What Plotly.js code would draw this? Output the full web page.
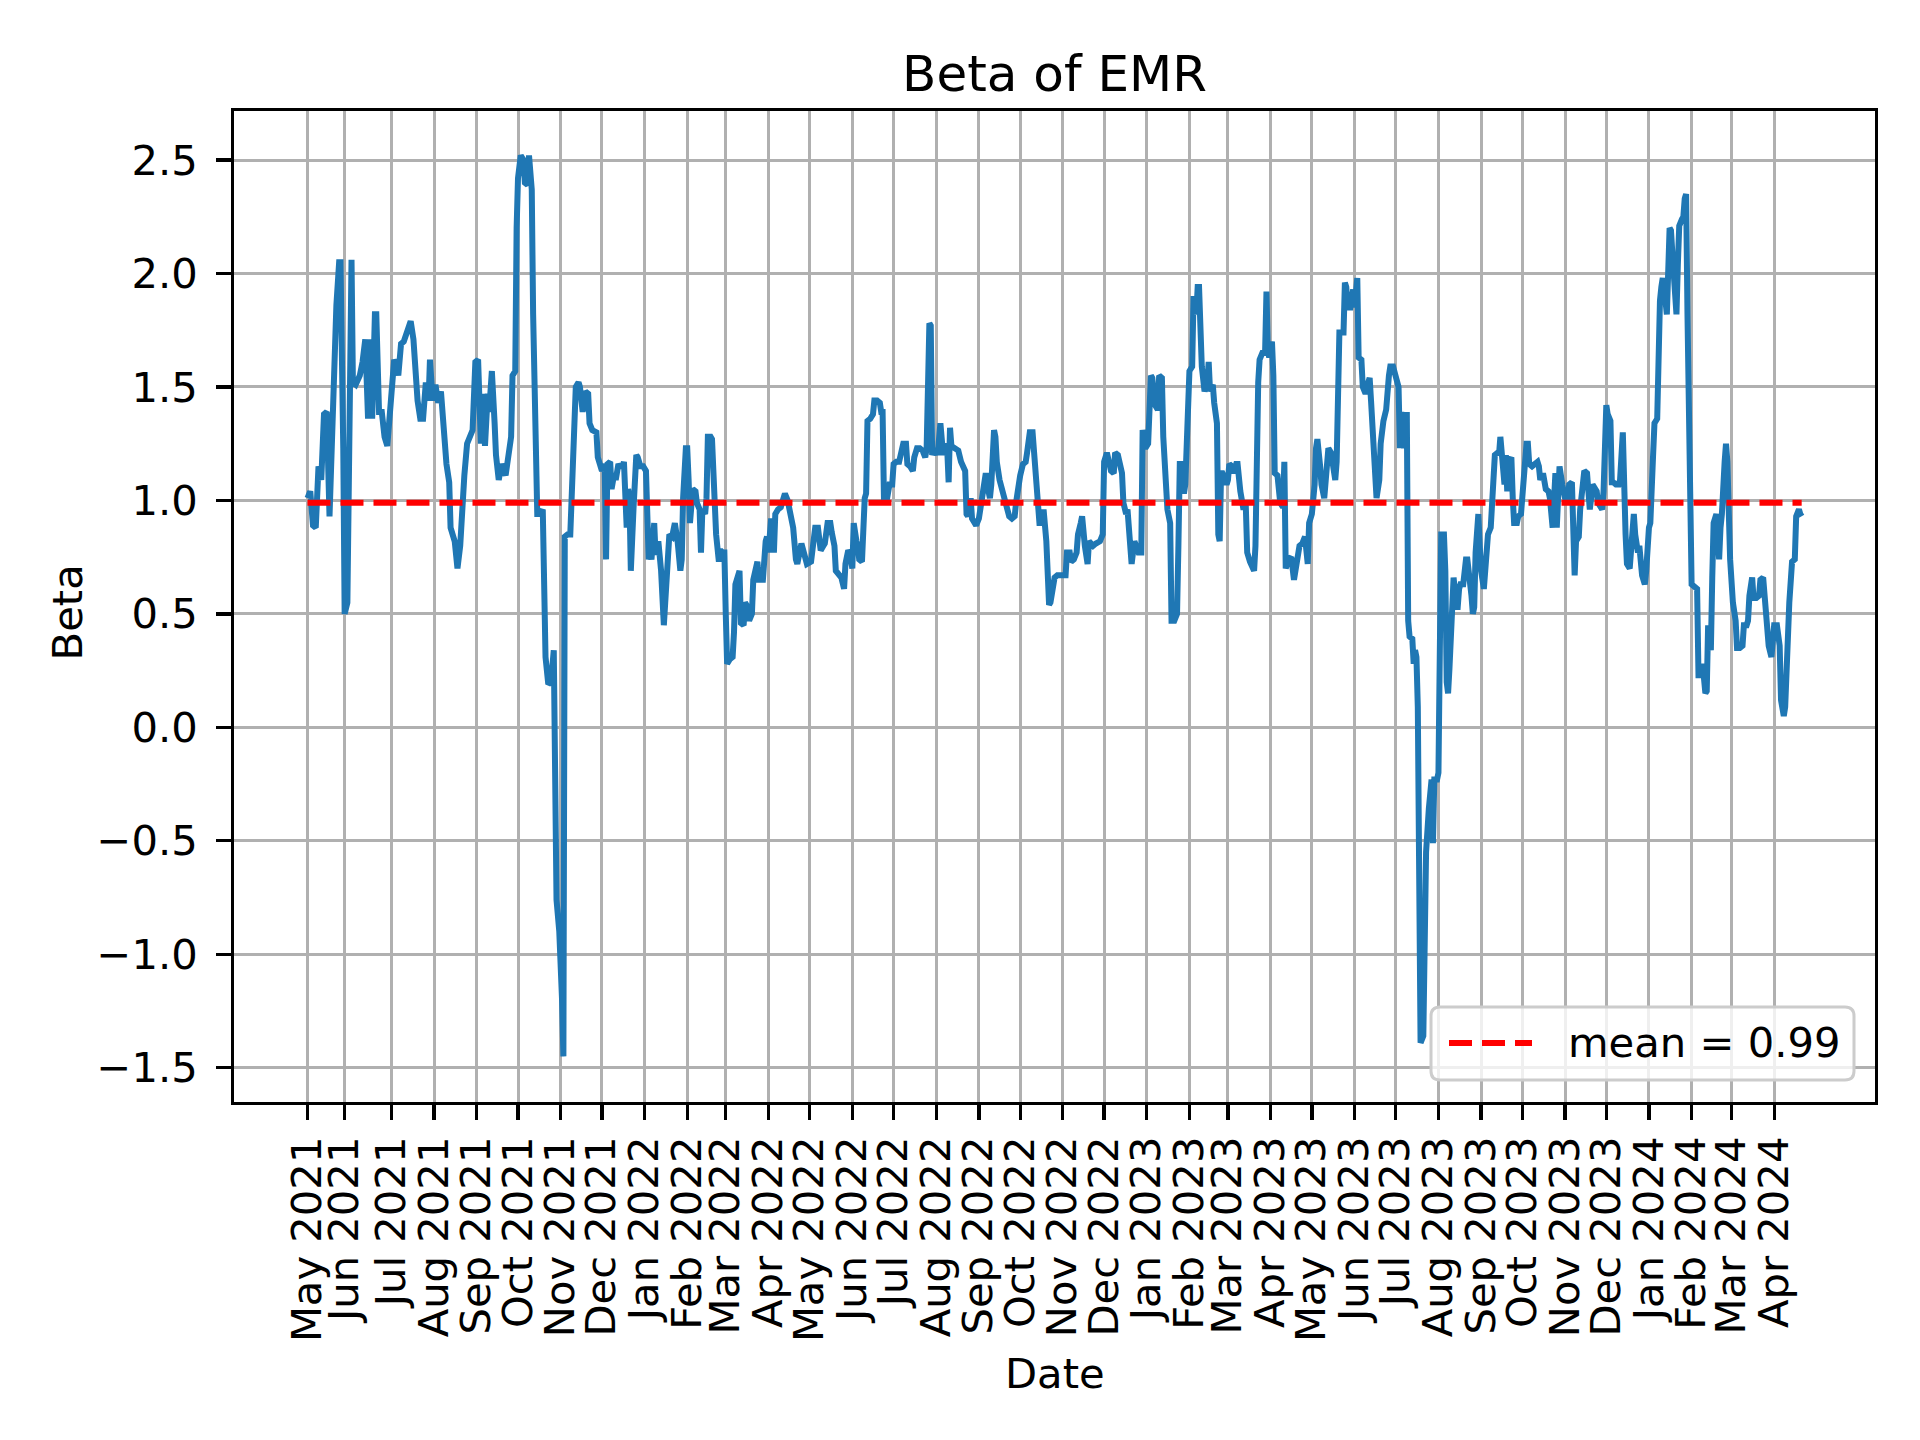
<!DOCTYPE html>
<html>
<head>
<meta charset="utf-8">
<script src="https://cdn.plot.ly/plotly-3.0.1.min.js"></script>
<style>html,body{margin:0;padding:0;background:#fff;}#chart{width:1920px;height:1440px;}</style>
</head>
<body>
<div id="chart"></div>
<script>
// ---- data ----
const d2021 = ['2021-05-01','2021-05-03','2021-05-05','2021-05-07','2021-05-09','2021-05-11','2021-05-13','2021-05-15','2021-05-17','2021-05-19','2021-05-21','2021-05-22','2021-05-24','2021-05-25','2021-05-27','2021-05-28','2021-05-30',
'2021-06-01','2021-06-02','2021-06-03','2021-06-05','2021-06-08','2021-06-10','2021-06-12','2021-06-14','2021-06-15','2021-06-17','2021-06-19','2021-06-20','2021-06-22','2021-06-24','2021-06-26','2021-06-28',
'2021-07-03','2021-07-05','2021-07-06','2021-07-08','2021-07-10','2021-07-12','2021-07-15','2021-07-17','2021-07-19','2021-07-20','2021-07-22','2021-07-24','2021-07-26','2021-07-28','2021-07-29','2021-07-31',
'2021-08-02','2021-08-04','2021-08-06','2021-08-08','2021-08-10','2021-08-12','2021-08-13','2021-08-16','2021-08-18','2021-08-20','2021-08-22','2021-08-23','2021-08-25','2021-08-27','2021-08-29','2021-08-31',
'2021-09-02','2021-09-04','2021-09-05','2021-09-07','2021-09-09','2021-09-10','2021-09-12','2021-09-14','2021-09-15','2021-09-17','2021-09-19','2021-09-22','2021-09-24','2021-09-26','2021-09-27','2021-09-29','2021-09-30',
'2021-10-01','2021-10-03','2021-10-05','2021-10-06','2021-10-08','2021-10-09','2021-10-11','2021-10-12','2021-10-14','2021-10-15','2021-10-17','2021-10-19','2021-10-21','2021-10-23','2021-10-25','2021-10-27','2021-10-29','2021-10-31',
'2021-11-02','2021-11-03','2021-11-04','2021-11-06','2021-11-08','2021-11-09','2021-11-10','2021-11-12','2021-11-14','2021-11-15','2021-11-17','2021-11-19','2021-11-21','2021-11-22','2021-11-24','2021-11-27','2021-11-28','2021-11-30',
'2021-12-01','2021-12-03','2021-12-04','2021-12-05','2021-12-07','2021-12-08','2021-12-10','2021-12-11','2021-12-13','2021-12-14','2021-12-16','2021-12-17','2021-12-19','2021-12-20','2021-12-21','2021-12-22','2021-12-23','2021-12-24','2021-12-26','2021-12-27','2021-12-29','2021-12-31'];
const b2021 = [1.01,1.04,0.89,0.88,1.15,1.09,1.38,1.39,0.93,1.39,1.85,1.86,2.05,2.05,1.23,0.50,0.55,
2.06,2.06,1.52,1.51,1.55,1.61,1.71,1.36,1.71,1.36,1.82,1.82,1.39,1.39,1.28,1.24,
1.62,1.59,1.55,1.69,1.70,1.74,1.79,1.71,1.47,1.44,1.36,1.36,1.52,1.44,1.62,1.44,
1.51,1.43,1.48,1.31,1.16,1.08,0.88,0.82,0.70,0.80,1.11,1.11,1.25,1.28,1.31,1.61,
1.62,1.25,1.47,1.24,1.47,1.39,1.57,1.34,1.20,1.09,1.16,1.11,1.19,1.28,1.55,1.57,2.20,
2.42,2.52,2.50,2.40,2.39,2.52,2.37,1.82,1.01,0.94,0.94,0.96,0.31,0.19,0.20,0.34,-0.76,-0.90,
-1.20,-1.45,0.84,0.85,0.85,1.01,1.01,1.50,1.52,1.50,1.39,1.48,1.47,1.34,1.31,1.30,1.19,1.16,
1.13,1.16,0.74,1.16,1.17,1.05,1.12,1.09,1.16,1.15,1.15,1.17,0.88,1.05,1.01,0.69,0.96,0.97,1.20,1.19,1.15,1.15];

const d2022 = ['2022-01-02','2022-01-04','2022-01-05','2022-01-06','2022-01-08','2022-01-09','2022-01-11','2022-01-13','2022-01-15','2022-01-17','2022-01-19','2022-01-21','2022-01-23','2022-01-25','2022-01-27','2022-01-28','2022-01-29','2022-01-31',
'2022-02-01','2022-02-02','2022-02-03','2022-02-05','2022-02-07','2022-02-08','2022-02-10','2022-02-11','2022-02-12','2022-02-14','2022-02-15','2022-02-16','2022-02-18','2022-02-19','2022-02-21','2022-02-22','2022-02-24','2022-02-25','2022-02-27','2022-02-28',
'2022-03-01','2022-03-02','2022-03-04','2022-03-06','2022-03-07','2022-03-08','2022-03-10','2022-03-11','2022-03-12','2022-03-14','2022-03-15','2022-03-16','2022-03-18','2022-03-20','2022-03-21','2022-03-22','2022-03-24','2022-03-25','2022-03-27','2022-03-28','2022-03-30','2022-03-31',
'2022-04-01','2022-04-03','2022-04-05','2022-04-06','2022-04-08','2022-04-10','2022-04-12','2022-04-13','2022-04-15','2022-04-17','2022-04-19','2022-04-21','2022-04-22','2022-04-25','2022-04-27','2022-04-29',
'2022-05-02','2022-05-03','2022-05-05','2022-05-07','2022-05-09','2022-05-11','2022-05-12','2022-05-14','2022-05-16','2022-05-17','2022-05-19','2022-05-20','2022-05-22','2022-05-24','2022-05-26','2022-05-27','2022-05-29','2022-05-30',
'2022-06-01','2022-06-02','2022-06-04','2022-06-05','2022-06-06','2022-06-08','2022-06-10','2022-06-11','2022-06-12','2022-06-14','2022-06-16','2022-06-17','2022-06-19','2022-06-21','2022-06-22','2022-06-23','2022-06-24','2022-06-26','2022-06-28','2022-06-30',
'2022-07-01','2022-07-03','2022-07-05','2022-07-06','2022-07-08','2022-07-10','2022-07-11','2022-07-13','2022-07-15','2022-07-16','2022-07-18','2022-07-20','2022-07-22','2022-07-24','2022-07-25','2022-07-27','2022-07-28','2022-07-29','2022-07-30',
'2022-08-01','2022-08-02','2022-08-04','2022-08-05','2022-08-06','2022-08-08','2022-08-09','2022-08-10','2022-08-11','2022-08-12','2022-08-14','2022-08-15','2022-08-17','2022-08-19','2022-08-20','2022-08-22','2022-08-23','2022-08-24','2022-08-26','2022-08-27','2022-08-29','2022-08-30',
'2022-09-01','2022-09-03','2022-09-05','2022-09-06','2022-09-07','2022-09-09','2022-09-10','2022-09-12','2022-09-13','2022-09-14','2022-09-16','2022-09-18','2022-09-20','2022-09-21','2022-09-23','2022-09-25','2022-09-27','2022-09-28','2022-09-30',
'2022-10-01','2022-10-03','2022-10-05','2022-10-06','2022-10-08','2022-10-10','2022-10-11','2022-10-12','2022-10-13','2022-10-15','2022-10-16','2022-10-18','2022-10-20','2022-10-21','2022-10-22','2022-10-23','2022-10-24','2022-10-26','2022-10-28','2022-10-30',
'2022-11-01','2022-11-03','2022-11-04','2022-11-06','2022-11-07','2022-11-09','2022-11-11','2022-11-12','2022-11-14','2022-11-15','2022-11-17','2022-11-18','2022-11-19','2022-11-20','2022-11-22','2022-11-23','2022-11-25','2022-11-28','2022-11-30',
'2022-12-01','2022-12-03','2022-12-04','2022-12-06','2022-12-08','2022-12-09','2022-12-11','2022-12-13','2022-12-14','2022-12-15','2022-12-17','2022-12-18','2022-12-20','2022-12-21','2022-12-23','2022-12-24','2022-12-26','2022-12-28','2022-12-29','2022-12-31'];
const b2022 = [1.13,0.74,0.77,0.74,0.90,0.76,0.82,0.69,0.45,0.61,0.85,0.84,0.90,0.82,0.69,0.74,1.01,1.23,
1.23,1.09,0.90,1.05,1.04,0.99,0.96,0.77,0.96,0.94,1.01,1.28,1.28,1.27,0.88,0.85,0.73,0.78,0.77,0.77,
0.50,0.28,0.30,0.31,0.42,0.63,0.67,0.69,0.46,0.45,0.55,0.54,0.47,0.50,0.65,0.69,0.73,0.65,0.65,0.65,0.82,0.84,
0.77,0.92,0.77,0.94,0.96,0.97,1.01,1.03,1.00,0.94,0.88,0.74,0.72,0.81,0.77,0.72,
0.73,0.80,0.88,0.88,0.78,0.80,0.81,0.90,0.90,0.86,0.80,0.69,0.67,0.66,0.61,0.72,0.78,0.77,
0.70,0.90,0.82,0.80,0.74,0.73,1.01,1.03,1.35,1.36,1.38,1.44,1.44,1.43,1.39,1.39,1.00,1.00,1.07,1.07,
1.16,1.17,1.17,1.19,1.25,1.25,1.16,1.15,1.13,1.19,1.23,1.23,1.22,1.19,1.23,1.78,1.77,1.20,1.22,
1.22,1.20,1.34,1.25,1.20,1.25,1.22,1.08,1.32,1.24,1.23,1.23,1.22,1.17,1.16,1.13,0.94,0.93,1.01,0.92,0.90,0.89,
0.92,1.00,1.04,1.12,1.07,1.01,1.07,1.31,1.28,1.17,1.09,1.04,1.01,0.96,0.93,0.92,0.93,0.99,1.08,
1.11,1.16,1.17,1.21,1.30,1.30,1.20,1.19,1.07,0.90,0.90,0.96,0.82,0.72,0.54,0.55,0.58,0.66,0.67,0.67,
0.67,0.67,0.77,0.77,0.73,0.74,0.77,0.85,0.90,0.93,0.80,0.77,0.72,0.82,0.80,0.80,0.81,0.82,0.85,
1.17,1.21,1.19,1.13,1.12,1.21,1.20,1.16,1.12,0.99,0.94,0.96,0.80,0.72,0.82,0.80,0.77,0.77,1.31,1.23];

const d2023 = ['2023-01-02','2023-01-04','2023-01-05','2023-01-07','2023-01-09','2023-01-10','2023-01-12','2023-01-13','2023-01-15','2023-01-16','2023-01-18','2023-01-19','2023-01-21','2023-01-23','2023-01-24','2023-01-25','2023-01-27','2023-01-28','2023-01-29','2023-01-31',
'2023-02-01','2023-02-03','2023-02-04','2023-02-05','2023-02-06','2023-02-07','2023-02-08','2023-02-10','2023-02-11','2023-02-12','2023-02-14','2023-02-15','2023-02-16','2023-02-18','2023-02-19','2023-02-21','2023-02-22','2023-02-23','2023-02-24','2023-02-25','2023-02-27','2023-02-28',
'2023-03-01','2023-03-02','2023-03-04','2023-03-05','2023-03-07','2023-03-08','2023-03-10','2023-03-11','2023-03-12','2023-03-14','2023-03-15','2023-03-17','2023-03-19','2023-03-20','2023-03-21','2023-03-22','2023-03-23','2023-03-24','2023-03-26','2023-03-28','2023-03-29','2023-03-30','2023-03-31',
'2023-04-02','2023-04-03','2023-04-04','2023-04-06','2023-04-08','2023-04-10','2023-04-11','2023-04-12','2023-04-14','2023-04-16','2023-04-18','2023-04-20','2023-04-22','2023-04-24','2023-04-26','2023-04-28','2023-04-29',
'2023-05-01','2023-05-03','2023-05-04','2023-05-05','2023-05-07','2023-05-08','2023-05-10','2023-05-12','2023-05-13','2023-05-15','2023-05-17','2023-05-18','2023-05-19','2023-05-20','2023-05-21','2023-05-24','2023-05-25','2023-05-26','2023-05-27','2023-05-29','2023-05-31',
'2023-06-01','2023-06-02','2023-06-03','2023-06-04','2023-06-06','2023-06-07','2023-06-09','2023-06-11','2023-06-12','2023-06-13','2023-06-15','2023-06-16','2023-06-17','2023-06-19','2023-06-20','2023-06-22','2023-06-24','2023-06-26','2023-06-27','2023-06-29',
'2023-07-01','2023-07-03','2023-07-04','2023-07-05','2023-07-07','2023-07-08','2023-07-09','2023-07-10','2023-07-11','2023-07-13','2023-07-14','2023-07-15','2023-07-16','2023-07-17','2023-07-18','2023-07-19','2023-07-21','2023-07-22','2023-07-23','2023-07-25','2023-07-26','2023-07-27','2023-07-28','2023-07-29','2023-07-31',
'2023-08-01','2023-08-02','2023-08-03','2023-08-05','2023-08-06','2023-08-07','2023-08-08','2023-08-09','2023-08-10','2023-08-11','2023-08-12','2023-08-14','2023-08-15','2023-08-16','2023-08-17','2023-08-19','2023-08-20','2023-08-21','2023-08-22','2023-08-24','2023-08-25','2023-08-26','2023-08-27','2023-08-28','2023-08-29','2023-08-30','2023-08-31',
'2023-09-01','2023-09-03','2023-09-04','2023-09-05','2023-09-06','2023-09-08','2023-09-10','2023-09-11','2023-09-13','2023-09-14','2023-09-15','2023-09-16','2023-09-18','2023-09-19','2023-09-20','2023-09-21','2023-09-23','2023-09-24','2023-09-25','2023-09-27','2023-09-28','2023-09-30',
'2023-10-01','2023-10-03','2023-10-04','2023-10-05','2023-10-06','2023-10-08','2023-10-10','2023-10-11','2023-10-12','2023-10-13','2023-10-14','2023-10-16','2023-10-17','2023-10-18','2023-10-20','2023-10-21','2023-10-23','2023-10-24','2023-10-25','2023-10-26','2023-10-27','2023-10-28','2023-10-30','2023-10-31',
'2023-11-01','2023-11-03','2023-11-04','2023-11-06','2023-11-07','2023-11-08','2023-11-09','2023-11-11','2023-11-12','2023-11-14','2023-11-15','2023-11-17','2023-11-18','2023-11-19','2023-11-20','2023-11-21','2023-11-23','2023-11-24','2023-11-25','2023-11-27','2023-11-28','2023-11-29','2023-11-30',
'2023-12-01','2023-12-02','2023-12-04','2023-12-05','2023-12-06','2023-12-08','2023-12-10','2023-12-11','2023-12-13','2023-12-15','2023-12-16','2023-12-18','2023-12-19','2023-12-21','2023-12-22','2023-12-24','2023-12-25','2023-12-27','2023-12-29','2023-12-30'];
const b2023 = [1.25,1.55,1.54,1.42,1.40,1.55,1.54,1.28,1.09,0.96,0.90,0.47,0.47,0.50,0.80,1.16,1.16,1.03,1.07,1.55,
1.57,1.59,1.90,1.85,1.82,1.94,1.94,1.59,1.52,1.48,1.52,1.61,1.48,1.51,1.43,1.34,0.85,0.82,1.12,1.12,1.09,1.07,
1.09,1.16,1.15,1.12,1.16,1.16,1.04,0.99,0.97,0.97,0.77,0.73,0.69,0.69,0.80,1.50,1.52,1.62,1.65,1.65,1.92,1.66,1.63,
1.70,1.55,1.12,1.11,0.99,0.97,1.17,0.70,0.74,0.75,0.65,0.73,0.80,0.81,0.84,0.72,0.90,
0.94,1.07,1.23,1.27,1.15,1.07,1.01,1.15,1.23,1.21,1.12,1.09,1.17,1.71,1.74,1.74,1.96,1.94,1.85,1.85,1.93,
1.85,1.97,1.98,1.63,1.62,1.50,1.47,1.52,1.54,1.44,1.20,1.04,1.01,1.09,1.25,1.35,1.40,1.55,1.59,1.59,
1.55,1.50,1.23,1.39,1.23,1.39,1.39,0.47,0.40,0.39,0.28,0.34,0.31,0.09,-0.47,-1.39,-1.36,-0.88,-0.55,-0.36,-0.26,-0.23,-0.51,-0.23,-0.23,
-0.20,0.34,0.85,0.85,0.69,0.20,0.15,0.26,0.42,0.55,0.66,0.53,0.53,0.61,0.63,0.63,0.69,0.74,0.74,0.66,0.58,0.50,0.53,0.77,0.93,0.94,0.80,
0.69,0.61,0.69,0.80,0.85,0.88,1.07,1.20,1.21,1.20,1.28,1.21,1.07,1.20,1.04,1.17,1.19,1.01,0.90,0.90,0.93,0.94,
1.04,1.15,1.25,1.25,1.16,1.15,1.16,1.16,1.17,1.15,1.09,1.12,1.07,1.05,1.04,1.01,0.88,1.09,1.12,0.88,1.13,1.15,1.07,1.01,
1.01,0.99,1.07,1.08,0.69,0.67,0.82,0.84,0.96,1.12,1.13,1.12,0.99,0.96,1.01,1.07,1.05,1.04,0.99,0.96,0.96,1.04,1.17,
1.42,1.38,1.35,1.08,1.08,1.07,1.07,1.09,1.30,0.85,0.72,0.70,0.82,0.94,0.85,0.77,0.80,0.67,0.63,0.69];

const d2024 = ['2024-01-01','2024-01-02','2024-01-04','2024-01-05','2024-01-07','2024-01-08','2024-01-09','2024-01-10','2024-01-11','2024-01-13','2024-01-14','2024-01-16','2024-01-17','2024-01-18','2024-01-20','2024-01-21','2024-01-22','2024-01-23','2024-01-25','2024-01-26','2024-01-27','2024-01-28','2024-01-29','2024-01-30','2024-01-31',
'2024-02-01','2024-02-03','2024-02-05','2024-02-06','2024-02-08','2024-02-09','2024-02-11','2024-02-12','2024-02-13','2024-02-14','2024-02-15','2024-02-16','2024-02-17','2024-02-19','2024-02-20','2024-02-21','2024-02-22','2024-02-23','2024-02-25','2024-02-26','2024-02-27','2024-02-28','2024-02-29',
'2024-03-02','2024-03-04','2024-03-05','2024-03-07','2024-03-09','2024-03-10','2024-03-12','2024-03-13','2024-03-14','2024-03-16','2024-03-17','2024-03-19','2024-03-21','2024-03-22','2024-03-24','2024-03-25','2024-03-27','2024-03-28','2024-03-30','2024-03-31',
'2024-04-01','2024-04-03','2024-04-04','2024-04-05','2024-04-06','2024-04-08','2024-04-09','2024-04-10','2024-04-11','2024-04-12','2024-04-14','2024-04-15','2024-04-16','2024-04-17','2024-04-19','2024-04-20','2024-04-21'];
const b2024 = [0.88,0.90,1.20,1.34,1.36,1.85,1.88,1.94,1.98,1.88,1.82,2.20,2.19,2.09,1.82,1.82,2.04,2.21,2.24,2.25,2.33,2.35,1.82,1.23,0.93,
0.63,0.62,0.61,0.23,0.23,0.28,0.15,0.16,0.45,0.39,0.34,0.66,0.90,0.94,0.74,0.74,0.88,0.94,1.17,1.25,1.17,0.96,0.74,
0.55,0.47,0.35,0.35,0.36,0.45,0.45,0.47,0.58,0.66,0.57,0.57,0.58,0.65,0.66,0.58,0.47,0.36,0.31,0.43,
0.45,0.45,0.42,0.36,0.12,0.05,0.09,0.31,0.53,0.55,0.73,0.74,0.74,0.93,0.96,0.94,0.93];

const meanValue = 0.99;
const meanLabel = 'mean = 0.99';

const tickDates = ['2021-05-01','2021-05-28','2021-07-01','2021-08-01','2021-09-01','2021-10-01','2021-11-01','2021-12-01',
'2022-01-01','2022-02-01','2022-03-01','2022-04-01','2022-05-01','2022-06-01','2022-07-01','2022-08-01','2022-09-01','2022-10-01','2022-11-01','2022-12-01',
'2023-01-01','2023-02-01','2023-03-01','2023-04-01','2023-05-01','2023-06-01','2023-07-01','2023-08-01','2023-09-01','2023-10-01','2023-11-01','2023-12-01',
'2024-01-01','2024-02-01','2024-03-01','2024-04-01'];
const tickLabels = ['May 2021','Jun 2021','Jul 2021','Aug 2021','Sep 2021','Oct 2021','Nov 2021','Dec 2021',
'Jan 2022','Feb 2022','Mar 2022','Apr 2022','May 2022','Jun 2022','Jul 2022','Aug 2022','Sep 2022','Oct 2022','Nov 2022','Dec 2022',
'Jan 2023','Feb 2023','Mar 2023','Apr 2023','May 2023','Jun 2023','Jul 2023','Aug 2023','Sep 2023','Oct 2023','Nov 2023','Dec 2023',
'Jan 2024','Feb 2024','Mar 2024','Apr 2024'];
const yTickVals = [-1.5,-1.0,-0.5,0.0,0.5,1.0,1.5,2.0,2.5];
const yTickLabels = ['\u22121.5','\u22121.0','\u22120.5','0.0','0.5','1.0','1.5','2.0','2.5'];

// ---- build ----
const dates = d2021.concat(d2022, d2023, d2024);
const betas = b2021.concat(b2022, b2023, b2024);

const FONT = 'DejaVu Sans, sans-serif';
const FS = 41.7;
const RED = '#ff0000';
const DASH = '23px,10px';

// plot area in page pixels
const PL = 234, PR = 1875, PT = 111, PB = 1102;
const px = v => (v - PL) / (PR - PL);
const py = v => (PB - v) / (PB - PT);

const traces = [
  {x: dates, y: betas, type: 'scatter', mode: 'lines', showlegend: false,
   line: {color: '#1f77b4', width: 6}, hoverinfo: 'skip'},
  {x: [dates[0], dates[dates.length - 1]], y: [meanValue, meanValue], type: 'scatter', mode: 'lines',
   name: meanLabel, showlegend: false, line: {color: RED, width: 6, dash: DASH}}
];

// legend frame (rounded box) like matplotlib's
const LX0 = 1431, LX1 = 1854, LY0 = 1007, LY1 = 1080, CR = 9;
const crx = CR / (PR - PL), cry = CR / (PB - PT);
const fL = px(LX0), fR = px(LX1), fT = py(LY0), fB = py(LY1);
const framePath = `M${fL + crx},${fT} L${fR - crx},${fT} Q${fR},${fT} ${fR},${fT - cry} L${fR},${fB + cry} Q${fR},${fB} ${fR - crx},${fB} L${fL + crx},${fB} Q${fL},${fB} ${fL},${fB + cry} L${fL},${fT - cry} Q${fL},${fT} ${fL + crx},${fT} Z`;

const axisCommon = {
  showgrid: true, gridcolor: '#b0b0b0', gridwidth: 3,
  ticks: 'outside', ticklen: 14.6, tickwidth: 3.3, tickcolor: '#000',
  showline: true, linecolor: '#000', linewidth: 3.3, mirror: true,
  zeroline: false, tickfont: {family: FONT, size: FS, color: '#000'}
};

const layout = {
  width: 1920, height: 1440,
  margin: {l: PL, r: 1920 - PR, t: PT, b: 1440 - PB, pad: 0},
  paper_bgcolor: '#ffffff', plot_bgcolor: '#ffffff',
  font: {family: FONT, size: FS, color: '#000'},
  title: {text: 'Beta of EMR', font: {family: FONT, size: 50, color: '#000'},
          x: 0.5, xref: 'paper', xanchor: 'center', y: 1 - 73 / 1440, yref: 'container', yanchor: 'middle'},
  xaxis: Object.assign({}, axisCommon, {
    type: 'date', range: ['2021-03-08 14:00', '2024-06-13 07:00'],
    tickmode: 'array', tickvals: tickDates, ticktext: tickLabels, tickangle: -90,
    ticklabelstandoff: 0
  }),
  yaxis: Object.assign({}, axisCommon, {
    range: [-1.651, 2.716], tickmode: 'array', tickvals: yTickVals, ticktext: yTickLabels,
    ticklabelstandoff: 10
  }),
  showlegend: false,
  shapes: [
    {type: 'path', xref: 'paper', yref: 'paper', path: framePath, layer: 'above',
     fillcolor: 'rgba(255,255,255,0.8)', line: {color: '#cccccc', width: 3}},
    {type: 'line', xref: 'paper', yref: 'paper', layer: 'above',
     x0: px(1449), x1: px(1532), y0: py(1043), y1: py(1043),
     line: {color: RED, width: 6, dash: DASH}}
  ],
  annotations: [
    {text: meanLabel, xref: 'paper', yref: 'paper', x: px(1566), y: py(1042),
     xanchor: 'left', yanchor: 'middle', showarrow: false, font: {family: FONT, size: FS, color: '#000'}},
    {text: 'Date', xref: 'paper', yref: 'paper', x: 0.5, y: py(1373),
     xanchor: 'center', yanchor: 'middle', showarrow: false, font: {family: FONT, size: FS, color: '#000'}},
    {text: 'Beta', xref: 'paper', yref: 'paper', x: px(67), y: 0.494,
     xanchor: 'center', yanchor: 'middle', textangle: -90, showarrow: false, font: {family: FONT, size: FS, color: '#000'}}
  ]
};

Plotly.newPlot('chart', traces, layout, {staticPlot: true, displayModeBar: false});
</script>
</body>
</html>
